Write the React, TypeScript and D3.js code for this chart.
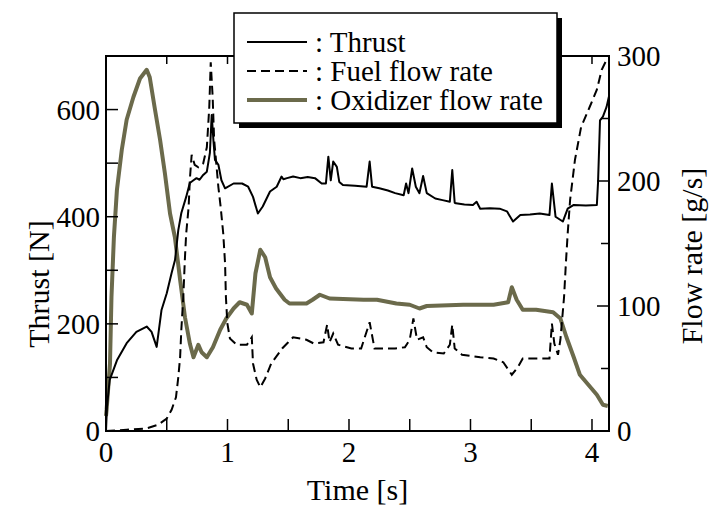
import React from "react"
import * as d3 from "d3"

// thrust [N] vs time [s]
const thrust: [number, number][] = [
  [0, 0], [0.008, 45], [0.03, 95], [0.09, 132], [0.17, 164], [0.25, 185], [0.335, 195], [0.375, 185],
  [0.417, 157], [0.457, 226], [0.5, 257], [0.54, 295], [0.568, 319], [0.595, 375], [0.62, 407],
  [0.66, 437], [0.69, 463], [0.72, 468], [0.745, 472], [0.77, 469], [0.8, 478], [0.83, 484],
  [0.855, 519], [0.87, 590], [0.885, 540], [0.897, 506], [0.925, 497], [0.95, 468], [0.98, 453],
  [1.05, 462], [1.12, 462], [1.17, 456], [1.21, 437], [1.25, 406], [1.29, 419], [1.35, 447],
  [1.405, 456], [1.445, 475], [1.46, 470], [1.49, 472], [1.54, 475], [1.6, 472], [1.66, 474],
  [1.72, 472], [1.775, 462], [1.81, 462], [1.83, 512], [1.85, 468], [1.87, 503], [1.9, 493],
  [1.92, 465], [1.95, 459], [2.05, 458], [2.145, 456], [2.17, 503], [2.19, 456], [2.25, 453],
  [2.32, 449], [2.38, 444], [2.45, 440], [2.47, 462], [2.49, 444], [2.52, 490], [2.55, 456],
  [2.58, 444], [2.61, 476], [2.64, 444], [2.71, 434], [2.77, 431], [2.83, 428], [2.85, 487],
  [2.87, 426], [2.88, 425], [2.95, 423], [3.02, 422], [3.05, 428], [3.08, 415], [3.16, 416],
  [3.24, 415], [3.3, 410], [3.35, 391], [3.41, 403], [3.49, 404], [3.57, 406], [3.65, 403],
  [3.67, 462], [3.7, 400], [3.76, 391], [3.8, 415], [3.85, 422], [3.95, 421], [4.04, 422],
  [4.05, 465], [4.066, 580], [4.09, 587], [4.12, 605], [4.14, 625],
]

// fuel flow rate [g/s]
const fuel: [number, number][] = [
  [0, 0], [0.17, 1], [0.33, 2], [0.43, 5], [0.5, 10], [0.54, 17], [0.576, 27], [0.595, 43],
  [0.61, 59], [0.62, 81], [0.636, 107], [0.65, 139], [0.66, 158], [0.68, 179], [0.69, 201],
  [0.705, 221], [0.73, 213], [0.76, 211], [0.8, 214], [0.83, 227], [0.85, 259], [0.862, 295],
  [0.878, 267], [0.89, 233], [0.905, 217], [0.925, 195], [0.944, 179], [0.965, 158], [0.98, 134],
  [0.987, 107], [0.999, 86], [1.02, 74], [1.075, 69], [1.16, 69], [1.2, 75], [1.21, 54],
  [1.24, 41], [1.27, 35], [1.31, 42], [1.36, 54], [1.45, 66], [1.5, 71], [1.54, 75], [1.65, 73],
  [1.71, 70], [1.79, 71], [1.82, 85], [1.84, 71], [1.87, 78], [1.91, 69], [2.02, 66], [2.1, 66],
  [2.17, 87], [2.21, 66], [2.38, 66], [2.46, 67], [2.5, 73], [2.53, 90], [2.56, 73], [2.61, 75],
  [2.64, 67], [2.69, 63], [2.78, 62], [2.83, 69], [2.85, 85], [2.87, 66], [2.93, 61], [3.08, 59],
  [3.19, 58], [3.27, 55], [3.34, 45], [3.39, 51], [3.43, 58], [3.65, 58], [3.67, 86], [3.69, 70],
  [3.72, 61], [3.74, 73], [3.77, 107], [3.785, 134], [3.8, 158], [3.82, 185], [3.86, 217],
  [3.91, 243], [3.98, 259], [4.04, 273], [4.08, 289], [4.12, 297],
]

// oxidizer flow rate [g/s]
const oxidizer: [number, number][] = [
  [0, 12], [0.005, 17], [0.033, 54], [0.045, 107], [0.065, 155], [0.09, 193], [0.13, 225],
  [0.17, 249], [0.225, 267], [0.28, 282], [0.335, 289], [0.36, 283], [0.4, 259], [0.445, 233],
  [0.485, 206], [0.527, 174], [0.567, 155], [0.61, 121], [0.65, 91], [0.69, 70], [0.72, 59],
  [0.76, 69], [0.787, 63], [0.83, 59], [0.88, 67], [0.94, 81], [0.99, 90], [1.05, 98], [1.1, 103],
  [1.16, 101], [1.2, 94], [1.23, 126], [1.27, 145], [1.31, 139], [1.35, 123], [1.4, 114],
  [1.47, 105], [1.51, 102], [1.65, 102], [1.7, 105], [1.76, 109], [1.84, 106], [2.12, 105],
  [2.23, 105], [2.39, 102], [2.5, 101], [2.58, 98], [2.64, 100], [2.94, 101], [3.19, 101],
  [3.31, 103], [3.34, 115], [3.38, 105], [3.43, 97], [3.54, 97], [3.68, 95], [3.74, 90],
  [3.79, 75], [3.85, 59], [3.9, 45], [3.97, 37], [4.04, 29], [4.09, 21], [4.13, 20],
]

const timeTicks = [0, 1, 2, 3, 4]
const timeMinor = [0.5, 1.5, 2.5, 3.5]
const thrustTicks = [0, 200, 400, 600]
const thrustMinor = [100, 300, 500]
const flowTicks = [0, 100, 200, 300]
const flowMinor = [50, 150, 250]
const legendItems = [": Thrust", ": Fuel flow rate", ": Oxidizer flow rate"]

const OLIVE = "#6b6a4b"
const FONT = "'Liberation Serif', 'Times New Roman', serif"

export default function App() {
  const left = 106, right = 609, top = 56, bottom = 431
  const x = d3.scaleLinear().domain([0, 4.14]).range([left, right])
  const yT = d3.scaleLinear().domain([0, 700]).range([bottom, top])
  const yF = d3.scaleLinear().domain([0, 300]).range([bottom, top])

  const lineT = d3.line<[number, number]>().x(d => x(d[0])).y(d => yT(d[1]))
  const lineF = d3.line<[number, number]>().x(d => x(d[0])).y(d => yF(d[1]))

  const major = 12, minor = 8
  const fs = 29
  const lx = 234, ly = 13, lw = 323, lh = 110

  return (
    <svg width={714} height={509} style={{ position: "absolute", left: 0, top: 0, background: "#fff" }}
      fontFamily={FONT}>
      <rect width={714} height={509} fill="#fff" />
      {/* curves */}
      <path d={lineF(oxidizer) || ""} fill="none" stroke={OLIVE} strokeWidth={4} strokeLinejoin="round" />
      <path d={lineF(fuel) || ""} fill="none" stroke="#000" strokeWidth={2} strokeDasharray="9,5" />
      <path d={lineT(thrust) || ""} fill="none" stroke="#000" strokeWidth={2} strokeLinejoin="round" />

      {/* frame */}
      <rect x={left} y={top} width={right - left} height={bottom - top} fill="none" stroke="#000" strokeWidth={2} />

      {/* x ticks */}
      {timeTicks.map(t => (
        <g key={"xt" + t}>
          <line x1={x(t)} x2={x(t)} y1={bottom} y2={bottom - major} stroke="#000" strokeWidth={1.5} />
          <line x1={x(t)} x2={x(t)} y1={top} y2={top + minor} stroke="#000" strokeWidth={1.5} />
          <text x={x(t)} y={462} fontSize={fs} textAnchor="middle">{t}</text>
        </g>
      ))}
      {timeMinor.map(t => (
        <g key={"xm" + t}>
          <line x1={x(t)} x2={x(t)} y1={bottom} y2={bottom - major} stroke="#000" strokeWidth={1.5} />
          <line x1={x(t)} x2={x(t)} y1={top} y2={top + minor} stroke="#000" strokeWidth={1.5} />
        </g>
      ))}

      {/* left axis */}
      {thrustTicks.map(v => (
        <g key={"yt" + v}>
          <line x1={left} x2={left + major} y1={yT(v)} y2={yT(v)} stroke="#000" strokeWidth={1.5} />
          <text x={left - 6} y={yT(v) + 10} fontSize={fs} textAnchor="end">{v}</text>
        </g>
      ))}
      {thrustMinor.map(v => (
        <line key={"ym" + v} x1={left} x2={left + major} y1={yT(v)} y2={yT(v)} stroke="#000" strokeWidth={1.5} />
      ))}

      {/* right axis */}
      {flowTicks.map(v => (
        <g key={"ft" + v}>
          <line x1={right} x2={right - major} y1={yF(v)} y2={yF(v)} stroke="#000" strokeWidth={1.5} />
          <text x={right + 8} y={yF(v) + 10} fontSize={fs}>{v}</text>
        </g>
      ))}
      {flowMinor.map(v => (
        <line key={"fm" + v} x1={right} x2={right - minor} y1={yF(v)} y2={yF(v)} stroke="#000" strokeWidth={1.5} />
      ))}

      {/* axis titles */}
      <text x={(left + right) / 2} y={500} fontSize={30} textAnchor="middle">Time [s]</text>
      <text transform={`translate(49,${284}) rotate(-90)`} fontSize={30} textAnchor="middle">Thrust [N]</text>
      <text transform={`translate(702,${256}) rotate(-90)`} fontSize={30} textAnchor="middle">Flow rate [g/s]</text>

      {/* legend */}
      <rect x={lx + 5} y={ly + 5} width={lw} height={lh} fill="#000" />
      <rect x={lx} y={ly} width={lw} height={lh} fill="#fff" stroke="#000" strokeWidth={1.5} />
      {legendItems.map((label, i) => {
        const yy = ly + 29 + i * 29
        return (
          <g key={label}>
            <line x1={lx + 13} x2={lx + 73} y1={yy} y2={yy}
              stroke={i === 2 ? OLIVE : "#000"} strokeWidth={i === 2 ? 4 : 2}
              strokeDasharray={i === 1 ? "9,5" : undefined} />
            <text x={lx + 81} y={yy + 10} fontSize={fs}>{label}</text>
          </g>
        )
      })}
    </svg>
  )
}
